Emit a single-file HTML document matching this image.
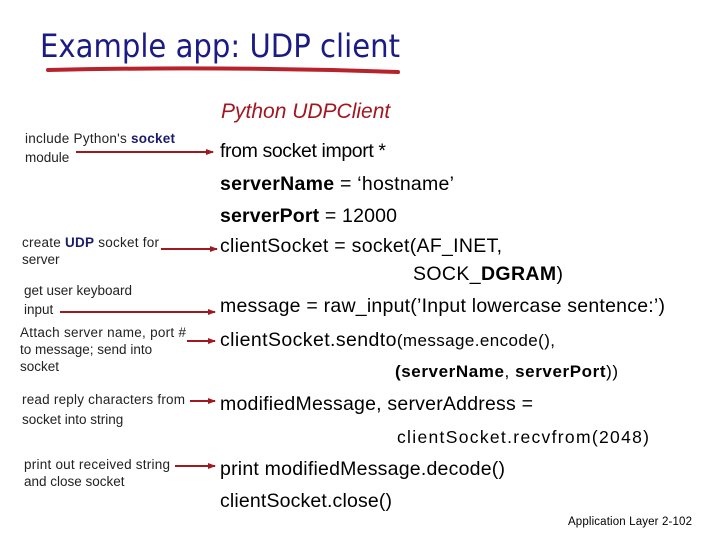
<!DOCTYPE html>
<html><head><meta charset="utf-8"><style>
html,body{margin:0;padding:0;background:#fff;}
svg{display:block;}
text{font-family:"Liberation Sans",Arial,sans-serif;}
</style></head><body>
<svg width="720" height="540" viewBox="0 0 720 540" xmlns="http://www.w3.org/2000/svg">
<defs><marker id="a" markerWidth="8" markerHeight="8" refX="7" refY="4" orient="auto" markerUnits="userSpaceOnUse"><path d="M0,1 L8,4 L0,7 z" fill="#a01820"/></marker></defs>
<text x="40" y="57" font-size="32" fill="#1b1b85" style="font-family:'DejaVu Sans','Liberation Sans',sans-serif" textLength="360" lengthAdjust="spacingAndGlyphs">Example app: UDP client</text>
<path d="M48,70 Q220,66 398,72" stroke="#b8232b" stroke-width="4" fill="none" stroke-linecap="round"/>
<text x="221" y="118" font-size="21" font-style="italic" fill="#a3161f">Python UDPClient</text>
<g font-size="13.5" fill="#222">
<text x="25" y="143" textLength="150">include Python's <tspan font-weight="bold" fill="#1b1b6b">socket</tspan></text>
<text x="25" y="162">module</text>
<text x="22" y="247" textLength="137">create <tspan font-weight="bold" fill="#1b1b6b">UDP</tspan> socket for</text>
<text x="22" y="264">server</text>
<text x="24" y="295">get user keyboard</text>
<text x="24" y="314">input</text>
<text x="20" y="337" textLength="166">Attach server name, port #</text>
<text x="20" y="354">to message; send into</text>
<text x="20" y="371">socket</text>
<text x="22" y="404" textLength="163">read reply characters from</text>
<text x="22" y="424">socket into string</text>
<text x="24" y="469" textLength="146">print out received string</text>
<text x="24" y="486">and close socket</text>
</g>
<g stroke="#a01820" stroke-width="2" marker-end="url(#a)">
<line x1="76" y1="152" x2="213" y2="152"/>
<line x1="161" y1="249" x2="217" y2="249"/>
<line x1="60" y1="312" x2="215" y2="312"/>
<line x1="187" y1="341" x2="215" y2="341"/>
<line x1="190" y1="401" x2="215" y2="401"/>
<line x1="175" y1="466" x2="215" y2="466"/>
</g>
<g font-size="19.5" fill="#000">
<text x="220" y="157" textLength="166">from socket import *</text>
<text x="220" y="190" textLength="234"><tspan font-weight="bold">serverName</tspan> = ‘hostname’</text>
<text x="220" y="222" textLength="177"><tspan font-weight="bold">serverPort</tspan> = 12000</text>
<text x="220" y="252" textLength="282">clientSocket = socket(AF_INET,</text>
<text x="413" y="280" textLength="150">SOCK_<tspan font-weight="bold">DGRAM</tspan>)</text>
<text x="220" y="312" textLength="445">message = raw_input(’Input lowercase sentence:’)</text>
<text x="220" y="346" textLength="335">clientSocket.sendto<tspan font-size="17">(message.encode(),</tspan></text>
<text x="395" y="377" font-size="17" textLength="223"><tspan font-weight="bold">(serverName</tspan>, <tspan font-weight="bold">serverPort</tspan>))</text>
<text x="220" y="410" textLength="313">modifiedMessage, serverAddress =</text>
<text x="397" y="443" font-size="17.5" textLength="252">clientSocket.recvfrom(2048)</text>
<text x="220" y="475" textLength="285">print modifiedMessage.decode()</text>
<text x="220" y="507" textLength="172">clientSocket.close()</text>
</g>
<text x="568" y="525" font-size="11.5" fill="#000" textLength="124">Application Layer 2-102</text>
</svg>
</body></html>
